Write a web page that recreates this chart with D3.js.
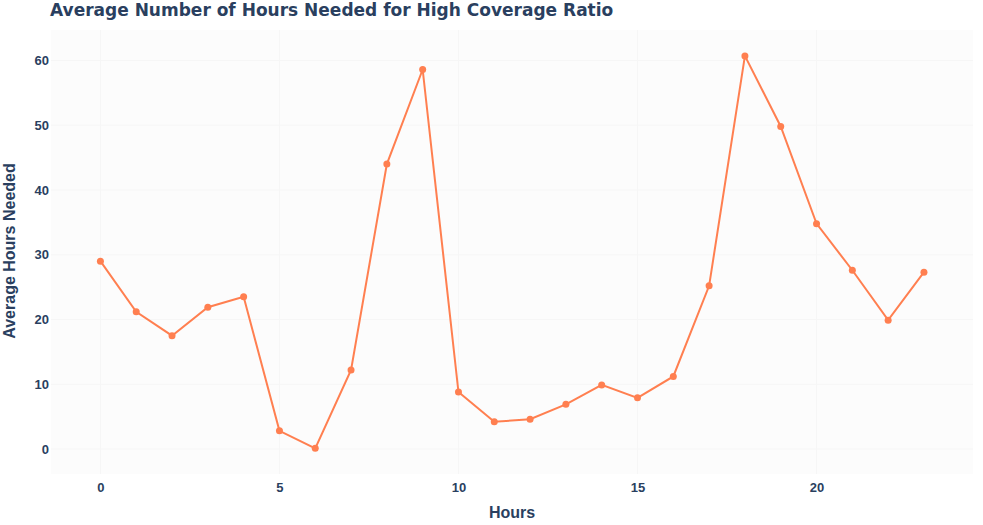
<!DOCTYPE html>
<html>
<head>
<meta charset="utf-8">
<script src="https://cdn.jsdelivr.net/npm/d3@7"></script>
<style>
  body { margin: 0; background: #fff; }
  text { font-family: "Liberation Sans", Arial, sans-serif; font-weight: bold; fill: #2a3f5f; }
</style>
</head>
<body>
<div id="chart"></div>
<script>
// hours of day and average hours needed for high coverage ratio
var hours = [0, 1, 2, 3, 4, 5, 6, 7, 8, 9, 10, 11, 12, 13, 14, 15, 16, 17, 18, 19, 20, 21, 22, 23]
var avgHours = [29.0, 21.2, 17.5, 21.9, 23.5, 2.8, 0.1, 12.2, 44.0, 58.6, 8.8, 4.2, 4.6, 6.9, 9.9, 7.9, 11.2, 25.2, 60.7, 49.8, 34.8, 27.6, 19.9, 27.3]
var xTicks = [0, 5, 10, 15, 20]
var yTicks = [0, 10, 20, 30, 40, 50, 60]

var width = 983
var height = 525
var margin = { top: 30, right: 10, bottom: 51, left: 51 }
var plotW = width - margin.left - margin.right
var plotH = height - margin.top - margin.bottom

var svg = d3.select('#chart').append('svg')
  .attr('width', width)
  .attr('height', height)

var x = d3.scaleLinear().domain([-1.38, 24.37]).range([margin.left, margin.left + plotW])
var y = d3.scaleLinear().domain([-3.86, 64.7]).range([margin.top + plotH, margin.top])

svg.append('rect')
  .attr('x', margin.left).attr('y', margin.top)
  .attr('width', plotW).attr('height', plotH)
  .attr('fill', '#fcfcfc')

// grid lines
svg.append('g')
  .selectAll('line')
  .data(xTicks)
  .enter().append('line')
  .attr('x1', d => x(d)).attr('x2', d => x(d))
  .attr('y1', margin.top).attr('y2', margin.top + plotH)
  .attr('stroke', '#f6f6f6')
svg.append('g')
  .selectAll('line')
  .data(yTicks)
  .enter().append('line')
  .attr('x1', margin.left).attr('x2', margin.left + plotW)
  .attr('y1', d => y(d)).attr('y2', d => y(d))
  .attr('stroke', '#f6f6f6')

// axes
var xAxis = svg.append('g')
  .attr('transform', 'translate(0,' + (margin.top + plotH) + ')')
  .call(d3.axisBottom(x).tickValues(xTicks).tickSize(0).tickPadding(9))
xAxis.select('.domain').remove()
xAxis.selectAll('text').style('font-size', '13px').attr('fill', '#2a3f5f')

var yAxis = svg.append('g')
  .attr('transform', 'translate(' + margin.left + ',0)')
  .call(d3.axisLeft(y).tickValues(yTicks).tickSize(0).tickPadding(2))
yAxis.select('.domain').remove()
yAxis.selectAll('text').style('font-size', '13px').attr('fill', '#2a3f5f')

// line and markers
var line = d3.line()
  .x((d, i) => x(hours[i]))
  .y(d => y(d))

svg.append('path')
  .datum(avgHours)
  .attr('d', line)
  .attr('fill', 'none')
  .attr('stroke', '#ff7f50')
  .attr('stroke-width', 2)

svg.append('g')
  .selectAll('circle')
  .data(avgHours)
  .enter().append('circle')
  .attr('cx', (d, i) => x(hours[i]))
  .attr('cy', d => y(d))
  .attr('r', 3.5)
  .attr('fill', '#ff7f50')

// titles
svg.append('text')
  .attr('x', 50).attr('y', 11)
  .attr('dominant-baseline', 'middle')
  .style('font-family', '"DejaVu Sans", Verdana, sans-serif')
  .style('font-size', '17px')
  .text('Average Number of Hours Needed for High Coverage Ratio')

svg.append('text')
  .attr('x', margin.left + plotW / 2).attr('y', 518)
  .attr('text-anchor', 'middle')
  .style('font-size', '16px')
  .text('Hours')

svg.append('text')
  .attr('transform', 'translate(15,' + 251 + ') rotate(-90)')
  .attr('text-anchor', 'middle')
  .style('font-size', '16px')
  .text('Average Hours Needed')
</script>
</body>
</html>
